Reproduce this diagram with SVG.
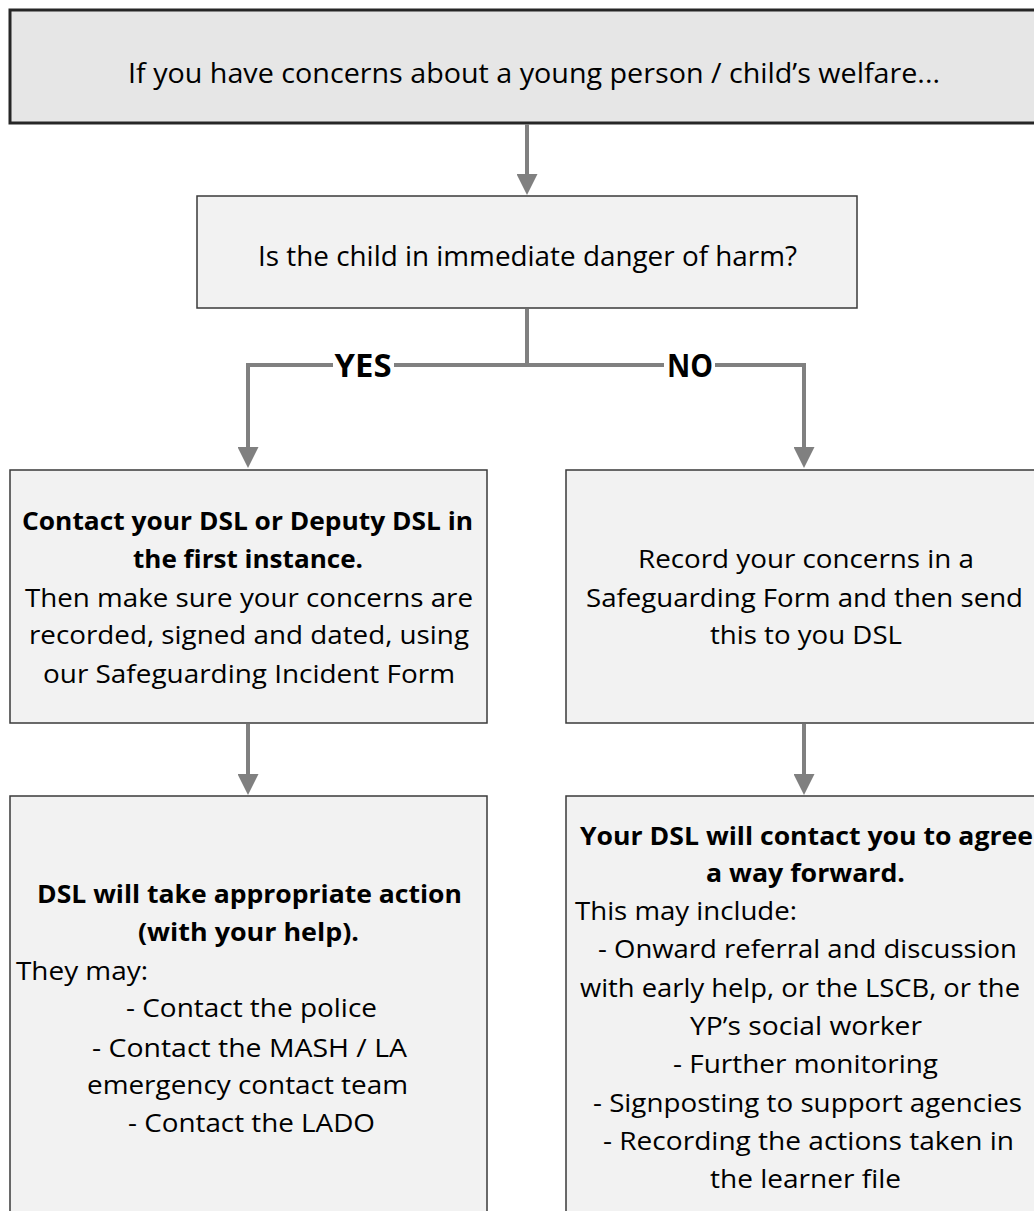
<svg xmlns="http://www.w3.org/2000/svg" width="1034" height="1211" viewBox="0 0 1034 1211">
<style>
.box{fill:#f2f2f2;stroke:#3a3a3a;stroke-width:1.5}
.top{fill:#e6e6e6;stroke:#262626;stroke-width:3}
.t{font-family:"Open Sans","Noto Sans","Liberation Sans",sans-serif;font-size:25px;fill:#000;text-anchor:middle}
.big{font-size:27px}
.b{font-weight:bold}
.l{text-anchor:start}
.lab{font-family:"Open Sans","Noto Sans","Liberation Sans",sans-serif;font-size:32px;font-weight:bold;fill:#000;text-anchor:middle}
.c{fill:none;stroke:#808080;stroke-width:4}
</style>
<defs>
<marker id="ah" markerUnits="userSpaceOnUse" markerWidth="21" markerHeight="21" viewBox="0 0 21 21" refX="6" refY="10.5" orient="auto">
<path d="M0,0 L21,10.5 L0,21 z" fill="#808080"/>
</marker>
</defs>
<rect width="1034" height="1211" fill="#fff"/>
<g id="n1">
<rect class="top" x="10" y="10" width="1040" height="113"/>
<text class="t big" x="534" y="83" textLength="812" lengthAdjust="spacingAndGlyphs">If you have concerns about a young person / child’s welfare...</text>
</g>
<g id="n2">
<rect class="box" x="197" y="196" width="660" height="112"/>
<text class="t big" x="527.5" y="266" textLength="539" lengthAdjust="spacingAndGlyphs">Is the child in immediate danger of harm?</text>
</g>
<g id="n3">
<rect class="box" x="10" y="470" width="477" height="253"/>
<text class="t b" x="247.5" y="530" textLength="451" lengthAdjust="spacingAndGlyphs">Contact your DSL or Deputy DSL in</text>
<text class="t b" x="248" y="568" textLength="230" lengthAdjust="spacingAndGlyphs">the first instance.</text>
<text class="t" x="249" y="607" textLength="448" lengthAdjust="spacingAndGlyphs">Then make sure your concerns are</text>
<text class="t" x="249" y="644" textLength="440" lengthAdjust="spacingAndGlyphs">recorded, signed and dated, using</text>
<text class="t" x="249" y="683" textLength="412" lengthAdjust="spacingAndGlyphs">our Safeguarding Incident Form</text>
</g>
<g id="n4">
<rect class="box" x="566" y="470" width="477" height="253"/>
<text class="t" x="806" y="568" textLength="336" lengthAdjust="spacingAndGlyphs">Record your concerns in a</text>
<text class="t" x="804.5" y="607" textLength="437" lengthAdjust="spacingAndGlyphs">Safeguarding Form and then send</text>
<text class="t" x="806" y="644" textLength="192" lengthAdjust="spacingAndGlyphs">this to you DSL</text>
</g>
<g id="n5">
<rect class="box" x="10" y="796" width="477" height="430"/>
<text class="t b" x="249.5" y="903" textLength="425" lengthAdjust="spacingAndGlyphs">DSL will take appropriate action</text>
<text class="t b" x="248.5" y="941" textLength="221" lengthAdjust="spacingAndGlyphs">(with your help).</text>
<text class="t l" x="16" y="980" textLength="132" lengthAdjust="spacingAndGlyphs">They may:</text>
<text class="t" x="251.5" y="1017" textLength="251" lengthAdjust="spacingAndGlyphs">- Contact the police</text>
<text class="t" x="249.5" y="1057" textLength="315" lengthAdjust="spacingAndGlyphs">- Contact the MASH / LA</text>
<text class="t" x="247.5" y="1094" textLength="321" lengthAdjust="spacingAndGlyphs">emergency contact team</text>
<text class="t" x="251.5" y="1132" textLength="247" lengthAdjust="spacingAndGlyphs">- Contact the LADO</text>
</g>
<g id="n6">
<rect class="box" x="566" y="796" width="477" height="430"/>
<text class="t b" x="806.5" y="845" textLength="453" lengthAdjust="spacingAndGlyphs">Your DSL will contact you to agree</text>
<text class="t b" x="805.5" y="882" textLength="199" lengthAdjust="spacingAndGlyphs">a way forward.</text>
<text class="t l" x="575" y="920" textLength="222" lengthAdjust="spacingAndGlyphs">This may include:</text>
<text class="t" x="807.5" y="958" textLength="419" lengthAdjust="spacingAndGlyphs">- Onward referral and discussion</text>
<text class="t" x="800" y="997" textLength="440" lengthAdjust="spacingAndGlyphs">with early help, or the LSCB, or the</text>
<text class="t" x="806" y="1035" textLength="232" lengthAdjust="spacingAndGlyphs">YP’s social worker</text>
<text class="t" x="805.5" y="1073" textLength="265" lengthAdjust="spacingAndGlyphs">- Further monitoring</text>
<text class="t" x="807.5" y="1112" textLength="429" lengthAdjust="spacingAndGlyphs">- Signposting to support agencies</text>
<text class="t" x="808.5" y="1150" textLength="411" lengthAdjust="spacingAndGlyphs">- Recording the actions taken in</text>
<text class="t" x="805.5" y="1188" textLength="191" lengthAdjust="spacingAndGlyphs">the learner file</text>
</g>
<g id="connectors">
<path class="c" d="M527,124 V180" marker-end="url(#ah)"/>
<path class="c" d="M527,309 V365"/>
<path class="c" d="M527,365 H394"/>
<path class="c" d="M333,365 H248 V453" marker-end="url(#ah)"/>
<path class="c" d="M527,365 H664"/>
<path class="c" d="M715,365 H804 V453" marker-end="url(#ah)"/>
<path class="c" d="M248,724 V780" marker-end="url(#ah)"/>
<path class="c" d="M804,724 V780" marker-end="url(#ah)"/>
<text class="lab" x="363" y="377" textLength="57" lengthAdjust="spacingAndGlyphs">YES</text>
<text class="lab" x="690" y="377" textLength="46" lengthAdjust="spacingAndGlyphs">NO</text>
</g>
</svg>
